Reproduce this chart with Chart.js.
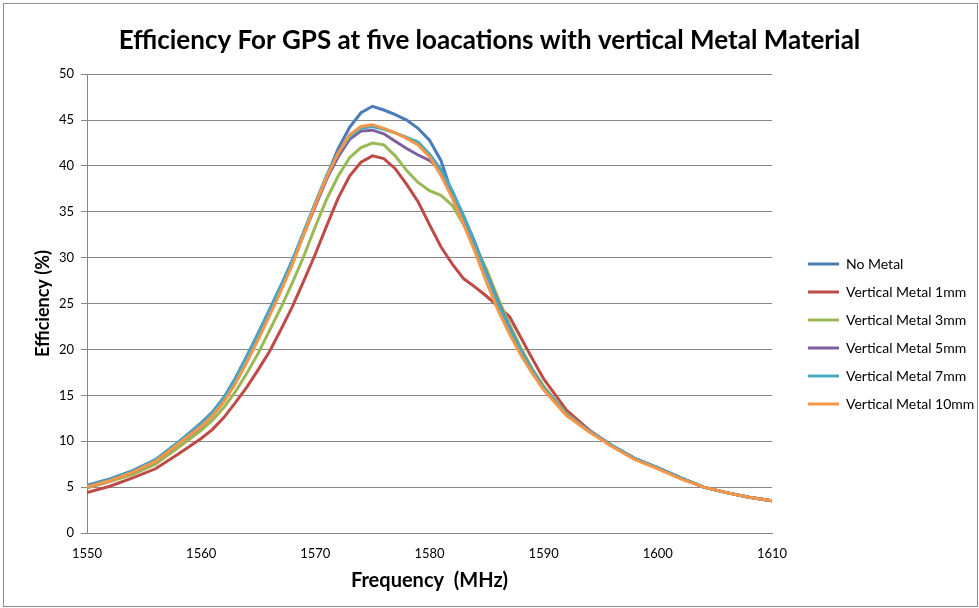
<!DOCTYPE html>
<html>
<head>
<meta charset="utf-8">
<script src="https://cdn.jsdelivr.net/npm/chart.js@4.4.1/dist/chart.umd.min.js"></script>
<style>
    html, body { margin: 0; padding: 0; background: #ffffff; }
    #frame { position: absolute; left: 3px; top: 3px; width: 973px; height: 602px; border: 1px solid #8c8c8c; }
    #wrap { position: absolute; left: 0; top: 0; width: 979px; height: 608px; }
</style>
</head>
<body>
<div id="frame"></div>
<div id="wrap"><canvas id="efficiency-chart"></canvas></div>
<script>
// Frequency points (MHz)
const freqs = [
    1550, 1552, 1554, 1556, 1558, 1560,
    1561, 1562, 1563, 1564, 1565, 1566, 1567, 1568, 1569, 1570,
    1571, 1572, 1573, 1574, 1575, 1576, 1577, 1578, 1579, 1580,
    1581, 1582, 1583, 1584, 1585, 1586, 1587, 1588, 1589, 1590,
    1592, 1594, 1596, 1598, 1600, 1602, 1604, 1606, 1608, 1610,
];

// Efficiency (%) per case
const noMetal = [
    5.2, 5.9, 6.8, 8.0, 9.9, 12.0,
    13.2, 14.8, 16.9, 19.3, 21.8, 24.4, 27.0, 29.8, 32.8, 35.8,
    38.9, 41.9, 44.2, 45.8, 46.5, 46.1, 45.6, 45.0, 44.1, 42.8,
    40.6, 36.9, 34.5, 31.6, 28.2, 25.2, 22.3, 19.8, 17.6, 15.7,
    12.9, 11.1, 9.5, 8.1, 7.1, 6.0, 5.0, 4.4, 3.9, 3.5,
];
const metal1mm = [
    4.4, 5.1, 6.0, 7.0, 8.6, 10.3,
    11.3, 12.6, 14.2, 15.9, 17.8, 19.8, 22.2, 24.7, 27.5, 30.4,
    33.5, 36.5, 38.9, 40.4, 41.1, 40.8, 39.7, 38.0, 36.1, 33.6,
    31.2, 29.3, 27.7, 26.8, 25.8, 24.7, 23.6, 21.3, 19.0, 16.8,
    13.4, 11.2, 9.5, 8.1, 7.1, 6.0, 5.0, 4.4, 3.9, 3.5,
];
const metal3mm = [
    4.9, 5.6, 6.4, 7.5, 9.3, 11.2,
    12.3, 13.7, 15.4, 17.4, 19.6, 22.1, 24.6, 27.3, 30.2, 33.4,
    36.4, 38.9, 40.9, 42.0, 42.5, 42.3, 41.1, 39.5, 38.2, 37.3,
    36.8, 35.7, 33.6, 31.3, 28.7, 25.6, 22.8, 20.2, 17.9, 16.0,
    13.0, 11.1, 9.5, 8.1, 7.1, 6.0, 5.0, 4.4, 3.9, 3.5,
];
const metal5mm = [
    5.0, 5.7, 6.6, 7.8, 9.7, 11.6,
    12.8, 14.4, 16.4, 18.7, 21.2, 23.9, 26.6, 29.4, 32.6, 35.6,
    38.6, 41.0, 42.9, 43.8, 43.9, 43.5, 42.7, 41.9, 41.2, 40.6,
    39.6, 37.1, 34.4, 31.5, 28.3, 25.2, 22.4, 19.9, 17.7, 15.8,
    12.9, 11.1, 9.5, 8.1, 7.1, 6.0, 5.0, 4.4, 3.9, 3.5,
];
const metal7mm = [
    5.1, 5.8, 6.7, 8.0, 9.9, 11.9,
    13.1, 14.7, 16.8, 19.2, 21.7, 24.3, 26.9, 29.7, 32.9, 36.0,
    39.0, 41.4, 43.2, 44.1, 44.3, 44.0, 43.6, 43.1, 42.6, 41.3,
    39.6, 37.3, 34.5, 31.5, 28.2, 25.0, 22.3, 19.9, 17.7, 15.8,
    12.9, 11.1, 9.5, 8.1, 7.1, 6.0, 5.0, 4.4, 3.9, 3.5,
];
const metal10mm = [
    5.0, 5.7, 6.6, 7.8, 9.7, 11.6,
    12.8, 14.3, 16.3, 18.6, 21.1, 23.7, 26.4, 29.3, 32.6, 35.8,
    38.8, 41.4, 43.4, 44.3, 44.5, 44.1, 43.6, 43.0, 42.3, 41.0,
    39.0, 36.5, 33.6, 30.6, 27.3, 24.3, 21.7, 19.4, 17.4, 15.6,
    12.8, 11.0, 9.4, 8.0, 7.0, 5.9, 5.0, 4.4, 3.9, 3.5,
];

const seriesNames = [
    "No Metal",
    "Vertical Metal 1mm",
    "Vertical Metal 3mm",
    "Vertical Metal 5mm",
    "Vertical Metal 7mm",
    "Vertical Metal 10mm",
];
const seriesColors = ["#4a7ebb", "#be4b48", "#98b954", "#7d60a0", "#46aac5", "#f79646"];
const seriesValues = [noMetal, metal1mm, metal3mm, metal5mm, metal7mm, metal10mm];

const xTicks = [1550, 1560, 1570, 1580, 1590, 1600, 1610];
const yTicks = [0, 5, 10, 15, 20, 25, 30, 35, 40, 45, 50];

const gridColor = "#878787";
const fontFamily = "Lato, 'Liberation Sans', Arial, sans-serif";

const ctx = document.getElementById("efficiency-chart");

new Chart(ctx, {
    type: "line",
    data: {
        datasets: seriesValues.map((vals, i) => ({
            label: seriesNames[i],
            data: freqs.map((f, j) => ({ x: f, y: vals[j] })),
            borderColor: seriesColors[i],
            backgroundColor: seriesColors[i],
            borderWidth: 3,
            tension: 0,
            pointRadius: 0,
            fill: false,
            // later series drawn on top, like Excel
            order: seriesValues.length - i,
        })),
    },
    options: {
        responsive: true,
        maintainAspectRatio: false,
        animation: false,
        layout: {
            padding: { left: 0, right: 0, top: 0, bottom: 0 },
        },
        scales: {
            x: {
                type: "linear",
                min: 1550,
                max: 1610,
                afterBuildTicks: (scale) => {
                    scale.ticks = xTicks.map((v) => ({ value: v }));
                },
                afterFit: (scale) => {
                    scale.height = 75;
                },
                grid: { display: false },
                border: { display: true, color: gridColor, width: 1 },
                ticks: {
                    color: "#000000",
                    padding: 5,
                    maxRotation: 0,
                    font: { family: fontFamily, size: 13 },
                    callback: (v) => String(v),
                },
                title: {
                    display: true,
                    text: "Frequency  (MHz)",
                    color: "#000000",
                    font: { family: fontFamily, size: 20, weight: "bold" },
                    padding: { top: 0, bottom: 15 },
                },
            },
            y: {
                min: 0,
                max: 50,
                afterBuildTicks: (scale) => {
                    scale.ticks = yTicks.map((v) => ({ value: v }));
                },
                afterFit: (scale) => {
                    scale.width = 87;
                },
                grid: {
                    color: gridColor,
                    lineWidth: 1,
                    tickLength: 6,
                    drawTicks: true,
                },
                border: { display: true, color: gridColor, width: 1 },
                ticks: {
                    color: "#000000",
                    padding: 7,
                    font: { family: fontFamily, size: 13 },
                },
                title: {
                    display: true,
                    text: "Efficiency (%)",
                    color: "#000000",
                    font: { family: fontFamily, size: 18, weight: "bold" },
                    padding: { top: 32, bottom: 0 },
                },
            },
            // hidden spacer between plot and legend
            gap: {
                type: "linear",
                position: "right",
                display: false,
                afterFit: (scale) => {
                    scale.width = 22;
                },
            },
        },
        plugins: {
            title: {
                display: true,
                text: "Efficiency For GPS at five loacations with vertical Metal Material",
                color: "#000000",
                font: { family: fontFamily, size: 26, weight: "bold" },
                padding: { top: 25, bottom: 18 },
            },
            legend: {
                display: true,
                position: "right",
                align: "center",
                maxWidth: 185,
                title: {
                    display: true,
                    text: "",
                    font: { size: 10 },
                    padding: { top: 48, bottom: 0 },
                },
                labels: {
                    color: "#000000",
                    boxWidth: 31,
                    boxHeight: 3,
                    padding: 14,
                    font: { family: fontFamily, size: 14 },
                    sort: (a, b) => a.datasetIndex - b.datasetIndex,
                    generateLabels: (chart) =>
                        Chart.defaults.plugins.legend.labels
                            .generateLabels(chart)
                            .map((item) => ({
                                ...item,
                                fillStyle: seriesColors[item.datasetIndex],
                                lineWidth: 0,
                            })),
                },
            },
            tooltip: { enabled: false },
        },
    },
});
</script>
</body>
</html>
